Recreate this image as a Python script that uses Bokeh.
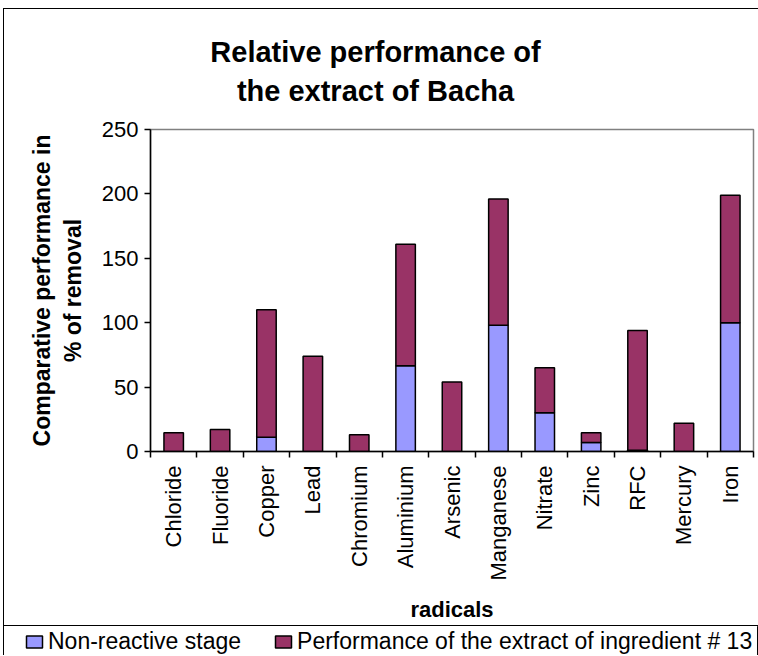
from math import pi
from bokeh.plotting import figure
from bokeh.layouts import column
from bokeh.models import (ColumnDataSource, FixedTicker, Legend, LegendItem,
                          Label, Range1d)
from bokeh.embed import file_html
from bokeh.resources import INLINE

radicals = ["Chloride", "Fluoride", "Copper", "Lead", "Chromium", "Aluminium",
            "Arsenic", "Manganese", "Nitrate", "Zinc", "RFC", "Mercury", "Iron"]
non_reactive = [0, 0, 11, 0, 0, 66.5, 0, 98, 30, 7, 1, 0, 100]
extract_perf = [14.5, 17, 99, 74, 13, 94.5, 54, 98, 35, 7.5, 93, 22, 99]
y_ticks = [0, 50, 100, 150, 200, 250]
series_names = ["Non-reactive stage", "Performance of the extract of ingredient # 13"]
series_colors = ["#9999FF", "#993366"]
title_lines = ["Relative performance of", "the extract of Bacha"]

FONT = "Liberation Sans"
W = 754


def blank_strip(height, x_range=None):
    f = figure(width=W, height=height,
               x_range=x_range if x_range is not None else Range1d(0, 1),
               y_range=Range1d(0, 1), output_backend="svg", toolbar_location=None,
               x_axis_location=None, y_axis_location=None, min_border=0,
               min_border_left=0, min_border_right=0, min_border_top=0,
               min_border_bottom=0, outline_line_color=None)
    f.frame_align = False
    f.xgrid.visible = False
    f.ygrid.visible = False
    return f


xpos = [i + 0.5 for i in range(len(radicals))]
source = ColumnDataSource(dict(x=xpos, nonreactive=non_reactive, extract=extract_perf))

# ---- title strip -------------------------------------------------------
tf = blank_strip(105)
for txt, yy in zip(title_lines, [63, 24]):
    tf.add_layout(Label(x=371, y=yy, x_units="screen", y_units="screen", text=txt,
                        text_font=FONT, text_font_size="29px",
                        text_font_style="bold", text_color="black",
                        text_align="center", text_baseline="middle"))

# ---- main chart --------------------------------------------------------
p = figure(width=W, height=511, x_range=Range1d(0, len(radicals)),
           y_range=Range1d(0, 250), output_backend="svg", toolbar_location=None,
           min_border_left=146, min_border_right=5, min_border_top=15,
           min_border_bottom=172)
p.frame_align = False

rs = p.vbar_stack(["nonreactive", "extract"], x="x", width=0.42, source=source,
                  fill_color=series_colors, line_color="black", line_width=1.5)

p.xgrid.visible = False
p.ygrid.visible = False
p.outline_line_color = "#808080"
p.outline_line_width = 1.5

xa = p.xaxis[0]
xa.ticker = FixedTicker(ticks=xpos, minor_ticks=list(range(len(radicals) + 1)))
xa.major_label_overrides = {x: name for x, name in zip(xpos, radicals)}
xa.major_label_orientation = pi / 2
xa.major_tick_out = 0
xa.major_tick_in = 0
xa.minor_tick_out = 6
xa.minor_tick_in = 0
xa.minor_tick_line_color = "black"
xa.minor_tick_line_width = 1.5
xa.axis_line_width = 1.5
xa.major_label_standoff = 8
xa.major_label_text_font = FONT
xa.major_label_text_font_size = "22px"
xa.major_label_text_color = "black"
xa.axis_label = "radicals"
xa.axis_label_text_font = FONT
xa.axis_label_text_font_size = "22px"
xa.axis_label_text_font_style = "bold"
xa.axis_label_text_color = "black"
xa.axis_label_standoff = 14

ya = p.yaxis[0]
ya.ticker = FixedTicker(ticks=y_ticks)
ya.major_tick_out = 6
ya.major_tick_in = 0
ya.minor_tick_out = 0
ya.minor_tick_in = 0
ya.major_tick_line_width = 1.5
ya.axis_line_width = 1.5
ya.major_label_standoff = 6
ya.major_label_text_font = FONT
ya.major_label_text_font_size = "22px"
ya.major_label_text_color = "black"
ya.axis_label = "Comparative performance in\n% of removal"
ya.axis_label_text_font = FONT
ya.axis_label_text_font_size = "23px"
ya.axis_label_text_font_style = "bold"
ya.axis_label_text_color = "black"
ya.axis_label_standoff = 13

# ---- legend strip (its bars lie outside its visible range) ---------------
lf = blank_strip(30, x_range=Range1d(-20, -19))
lf.styles = {"border-top": "1px solid black"}
lrs = lf.vbar_stack(["nonreactive", "extract"], x="x", width=0.42, source=source,
                    fill_color=series_colors, line_color="black", line_width=1.5)
items = [LegendItem(label=name, renderers=[r]) for name, r in zip(series_names, lrs)]
legend = Legend(items=items, orientation="horizontal", location=(20, 1),
                label_text_font=FONT, label_text_font_size="23px",
                label_text_color="black", glyph_width=20, glyph_height=15,
                label_standoff=4, spacing=32, padding=0, margin=0,
                border_line_color=None, background_fill_alpha=0)
lf.add_layout(legend, "center")

layout = column(tf, p, lf, spacing=0)
layout.styles = {"border-left": "1px solid black", "border-top": "1px solid black",
                 "margin-left": "3px", "margin-top": "8px"}
open("out.html", "w").write(file_html(layout, INLINE))
